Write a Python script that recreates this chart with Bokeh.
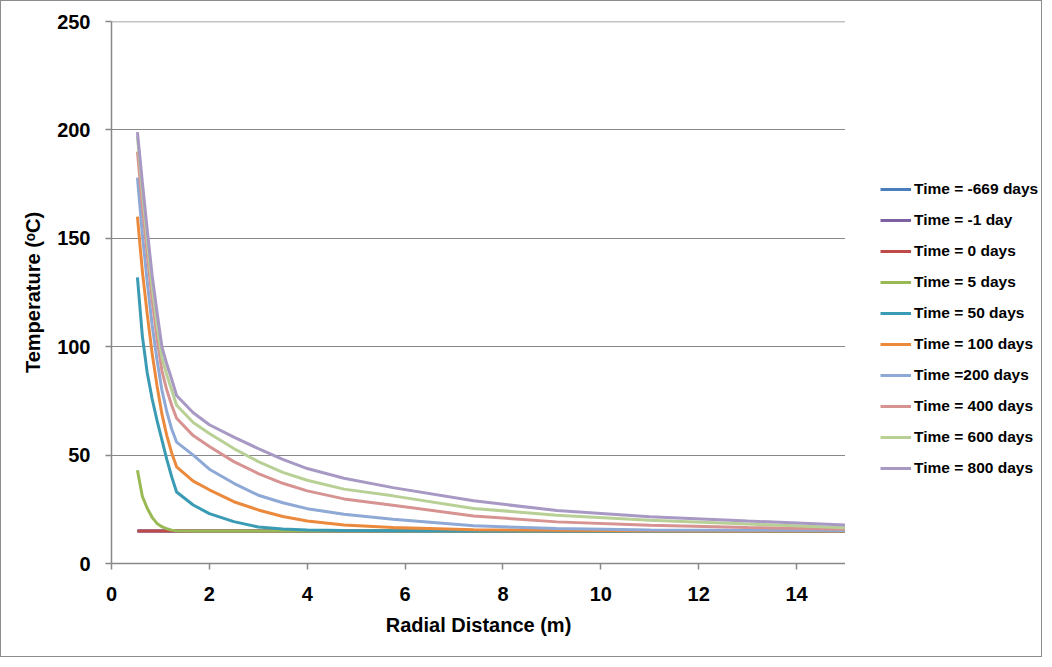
from bokeh.plotting import figure
from bokeh.models import Legend, LegendItem, FixedTicker, Span
from bokeh.layouts import row
from bokeh.embed import file_html
from bokeh.resources import INLINE

# Radial distance (m)
radius = [0.53, 0.63, 0.73, 0.83, 0.93, 1.03, 1.13, 1.23, 1.33, 1.67, 2.0, 2.5,
          3.0, 3.5, 4.0, 4.75, 5.75, 7.4, 9.1, 11.0, 13.0, 15.0]

# Temperature (C) for each time
t_m669 = [15.0, 15.0, 15.0, 15.0, 15.0, 15.0, 15.0, 15.0, 15.0, 15.0, 15.0, 15.0,
          15.0, 15.0, 15.0, 15.0, 15.0, 15.0, 15.0, 15.0, 15.0, 15.0]
t_m1 = [15.0, 15.0, 15.0, 15.0, 15.0, 15.0, 15.0, 15.0, 15.0, 15.0, 15.0, 15.0,
        15.0, 15.0, 15.0, 15.0, 15.0, 15.0, 15.0, 15.0, 15.0, 15.0]
t_0 = [15.0, 15.0, 15.0, 15.0, 15.0, 15.0, 15.0, 15.0, 15.0, 15.0, 15.0, 15.0,
       15.0, 15.0, 15.0, 15.0, 15.0, 15.0, 15.0, 15.0, 15.0, 15.0]
t_5 = [43.0, 31.0, 25.5, 21.3, 18.5, 17.0, 16.0, 15.4, 15.1, 15.0, 15.0, 15.0,
       15.0, 15.0, 15.0, 15.0, 15.0, 15.0, 15.0, 15.0, 15.0, 15.0]
t_50 = [132.0, 105.0, 88.0, 76.0, 66.0, 57.0, 48.0, 40.0, 33.0, 27.0, 23.0, 19.3,
        16.8, 15.9, 15.5, 15.2, 15.1, 15.0, 15.0, 15.0, 15.0, 15.0]
t_100 = [160.0, 135.0, 115.0, 97.0, 82.0, 69.0, 59.0, 51.0, 44.6, 38.0, 34.0, 28.5,
         24.7, 21.7, 19.6, 17.8, 16.6, 15.6, 15.3, 15.1, 15.0, 15.0]
t_200 = [178.0, 152.0, 130.0, 110.0, 94.0, 80.0, 70.0, 62.0, 56.0, 50.0, 43.5, 37.0,
         31.5, 28.0, 25.3, 22.7, 20.4, 17.4, 16.1, 15.5, 15.3, 15.2]
t_400 = [190.0, 165.0, 143.0, 122.0, 104.0, 89.0, 80.0, 73.0, 67.0, 59.0, 54.0, 47.0,
         41.5, 37.0, 33.5, 29.8, 26.9, 21.9, 19.2, 17.6, 16.6, 15.8]
t_600 = [197.0, 172.0, 149.0, 128.0, 110.0, 95.0, 87.0, 80.0, 73.0, 65.0, 60.0, 53.0,
         47.0, 42.0, 38.4, 34.3, 31.2, 25.4, 22.3, 20.0, 18.2, 16.5]
t_800 = [199.0, 176.0, 154.0, 133.0, 116.0, 100.0, 92.0, 85.0, 77.5, 69.5, 64.0, 58.3,
         53.0, 48.0, 43.8, 39.3, 35.0, 28.9, 24.4, 21.6, 19.6, 17.7]

labels = ["Time = -669 days", "Time = -1 day", "Time = 0 days", "Time = 5 days",
          "Time = 50 days", "Time = 100 days", "Time =200 days", "Time = 400 days",
          "Time = 600 days", "Time = 800 days"]
series = [t_m669, t_m1, t_0, t_5, t_50, t_100, t_200, t_400, t_600, t_800]
colors = ["#4A7EBB", "#7D60A0", "#BE4B48", "#98B954", "#3A9BB4", "#EB8A3C",
          "#8EA9D6", "#D79392", "#B8D095", "#A899C4"]

x_ticks = [0, 2, 4, 6, 8, 10, 12, 14]
y_ticks = [0, 50, 100, 150, 200, 250]

FONT = "Liberation Sans"
AXIS_COL = "#888888"

p = figure(width=844, height=655, x_range=(0, 15), y_range=(0, 250),
           output_backend="svg", toolbar_location=None,
           min_border_left=110, min_border_right=0, min_border_top=20,
           min_border_bottom=93)
p.outline_line_color = None
p.background_fill_color = "white"
p.border_fill_color = "white"

p.xgrid.visible = False
p.ygrid.grid_line_color = AXIS_COL
p.ygrid.grid_line_width = 1
p.xaxis.ticker = FixedTicker(ticks=x_ticks)
p.yaxis.ticker = FixedTicker(ticks=y_ticks)
p.add_layout(Span(location=y_ticks[-1], dimension="width",
                  line_color=AXIS_COL, line_width=1.5))

for ax in (p.xaxis[0], p.yaxis[0]):
    ax.axis_line_color = AXIS_COL
    ax.axis_line_width = 1.5
    ax.major_tick_line_color = AXIS_COL
    ax.major_tick_line_width = 1.5
    ax.major_tick_out = 6
    ax.major_tick_in = 0
    ax.minor_tick_line_color = None
    ax.major_label_text_font = FONT
    ax.major_label_text_font_style = "bold"
    ax.major_label_text_font_size = "20px"
    ax.major_label_text_color = "black"
    ax.axis_label_text_font = FONT
    ax.axis_label_text_font_style = "bold"
    ax.axis_label_text_font_size = "20px"
    ax.axis_label_text_color = "black"

p.xaxis.axis_label = "Radial Distance (m)"
p.yaxis.axis_label = "Temperature (ᵒC)"
p.xaxis.major_label_standoff = 17
p.yaxis.major_label_standoff = 15
p.xaxis.axis_label_standoff = 10
p.yaxis.axis_label_standoff = 10

for ys, col in zip(series, colors):
    p.line(radius, ys, line_color=col, line_width=3)

# Legend panel to the right of the plot area (its ranges keep the series
# themselves out of view; only the legend shows there)
lg = figure(width=196, height=655, x_range=(0, 1), y_range=(-2, -1),
            output_backend="svg", toolbar_location=None,
            min_border_left=0, min_border_right=0, min_border_top=0,
            min_border_bottom=0)
lg.axis.visible = False
lg.grid.visible = False
lg.outline_line_color = None
lg.border_fill_color = "white"
lg.background_fill_color = "white"

items = []
for lab, ys, col in zip(labels, series, colors):
    r = lg.line(radius, ys, line_color=col, line_width=3)
    items.append(LegendItem(label=lab, renderers=[r]))

legend = Legend(items=items, location=(35, 85), orientation="vertical")
legend.padding = 0
legend.margin = 0
legend.spacing = 11
legend.glyph_width = 31
legend.glyph_height = 20
legend.label_height = 20
legend.label_standoff = 3
legend.border_line_color = None
legend.background_fill_alpha = 0
legend.label_text_font = FONT
legend.label_text_font_style = "bold"
legend.label_text_font_size = "15.5px"
legend.label_text_color = "black"
lg.add_layout(legend, "center")

layout = row(p, lg, spacing=0)
layout.styles = {"border": "1px solid #8c8c8c"}

html = file_html(layout, INLINE)
open("out.html", "w").write(html)
